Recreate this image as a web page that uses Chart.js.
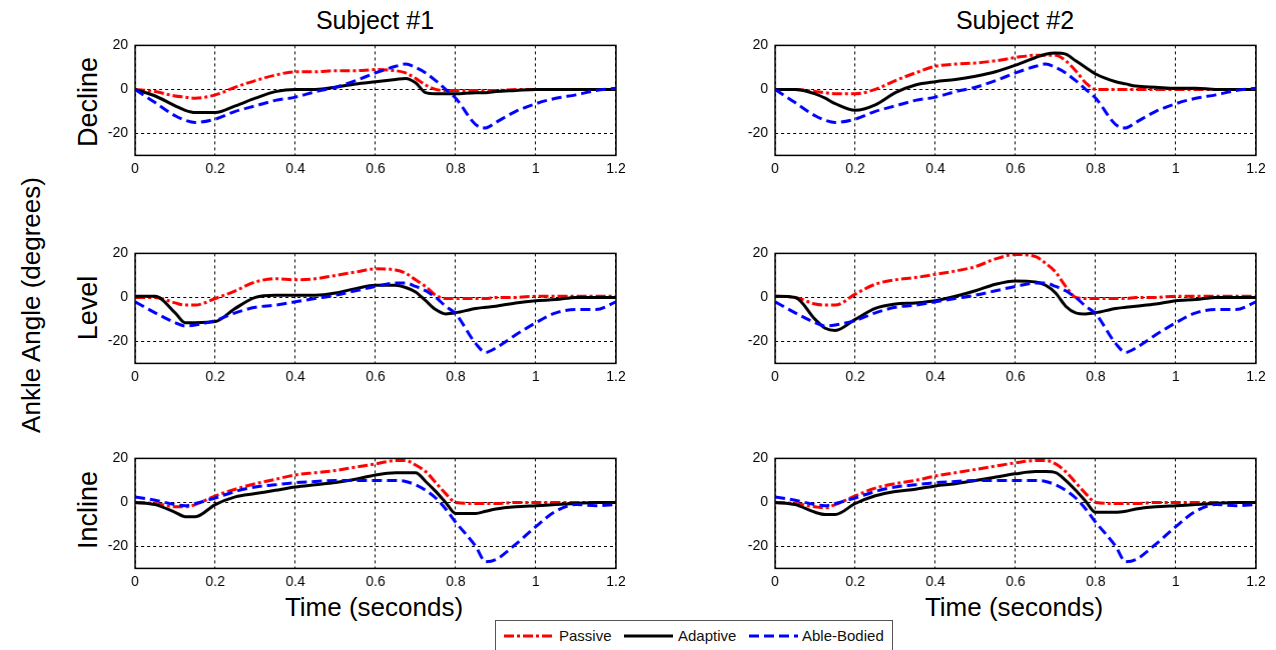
<!DOCTYPE html>
<html>
<head>
<meta charset="utf-8">
<script src="https://cdn.jsdelivr.net/npm/chart.js@4.4.0/dist/chart.umd.min.js"></script>
<style>
  body { margin: 0; background: #fff; width: 1276px; height: 650px; overflow: hidden; position: relative;
         font-family: "Liberation Sans", Arial, sans-serif; }
  canvas { position: absolute; }
  .lbl { position: absolute; color: #000; white-space: nowrap; transform: translate(-50%, -50%); }
  .rot { transform: translate(-50%, -50%) rotate(-90deg); }
  #legend { position: absolute; left: 495px; top: 620px; width: 398px; height: 40px;
            border: 1px solid #555; background: #fff; box-sizing: border-box; }
  #legend span { position: absolute; top: 6px; font-size: 15px; color: #111; }
</style>
</head>
<body>

<div class="lbl" style="left:375px;top:20px;font-size:25px;">Subject #1</div>
<div class="lbl" style="left:1015px;top:20px;font-size:25px;">Subject #2</div>
<div class="lbl rot" style="left:31px;top:305px;font-size:26px;">Ankle Angle (degrees)</div>
<div class="lbl rot" style="left:88px;top:102px;font-size:27px;">Decline</div>
<div class="lbl rot" style="left:88px;top:308px;font-size:27px;">Level</div>
<div class="lbl rot" style="left:88px;top:510px;font-size:27px;">Incline</div>
<div class="lbl" style="left:374px;top:607px;font-size:26px;">Time (seconds)</div>
<div class="lbl" style="left:1014px;top:607px;font-size:26px;">Time (seconds)</div>

<div id="legend">
  <svg width="398" height="40" style="position:absolute;left:0;top:0">
    <line x1="8" y1="15" x2="58" y2="15" stroke="#ff0000" stroke-width="3" stroke-dasharray="10 3 3 3"/>
    <line x1="128" y1="15" x2="177" y2="15" stroke="#000" stroke-width="3"/>
    <line x1="253" y1="15" x2="302" y2="15" stroke="#0000ff" stroke-width="3" stroke-dasharray="10 5"/>
  </svg>
  <span style="left:63px">Passive</span>
  <span style="left:182px">Adaptive</span>
  <span style="left:306px">Able-Bodied</span>
</div>

<script>
// time samples (seconds), shared by every curve
const times = [0, 0.05, 0.1, 0.125, 0.15, 0.2, 0.25, 0.3, 0.35, 0.4, 0.45, 0.5, 0.55, 0.6, 0.65,
               0.675, 0.7, 0.725, 0.75, 0.775, 0.8, 0.85, 0.875, 0.9, 0.95, 1, 1.05, 1.1, 1.15, 1.2];

const xTicks = [0, 0.2, 0.4, 0.6, 0.8, 1, 1.2];
const yTicks = [-20, 0, 20];

const seriesNames = ['Passive', 'Adaptive', 'Able-Bodied'];
const rowNames = ['Decline', 'Level', 'Incline'];

// Decline
const declineS1Passive  = [0, -1, -3, -3.5, -4, -2.5, 1, 4, 6.5, 8, 8, 8.5, 8.5, 9, 8.5, 7.5, 5, 2, 0, -0.5, -0.5, -0.5, -0.5, -0.5, 0, 0, 0, 0, 0, 0];
const declineS1Adaptive = [0, -3, -7.5, -9.5, -10.5, -10.5, -7.5, -4, -1, 0, 0, 1, 2.5, 3.5, 4.5, 5, 3, -1.5, -2, -2, -2, -1.5, -1.5, -1, -0.5, 0, 0, 0, 0, 0];
const declineS2Passive  = [0, 0, -1, -1.5, -2, -2, 0, 4, 7.5, 10.5, 11.5, 12, 13, 14.5, 15.5, 15.5, 15.5, 13, 8.5, 3, 0, 0, 0, 0, 0, 0, 0, 0, 0, 0];
const declineS2Adaptive = [0, 0, -2, -4, -6.5, -9.5, -7, -1.5, 2, 3.5, 4.5, 6, 8, 11, 14.5, 16, 16.5, 16, 13, 10, 7, 3.5, 2.5, 1.5, 1, 0.5, 0.5, 0, 0, 0];
const declineAbleBodied = [0, -6, -12, -14, -15, -13.5, -10, -7.5, -5, -3.5, -1, 1, 4, 7.5, 10.5, 11.5, 10, 7.5, 4, 0, -4, -16, -17.5, -15, -10, -6.5, -4, -2.5, -0.5, 0.5];

// Level
const levelS1Passive  = [0, 0, -2.5, -3.5, -3.5, -0.5, 3, 7, 8.5, 8, 8.5, 10, 11.5, 13, 12.5, 11, 8, 5, 1, -0.5, -0.5, -0.5, -0.5, 0, 0, 0.5, 0.5, 0.5, 0.5, 0.5];
const levelS1Adaptive = [0.5, 0.5, -7, -11.5, -11.5, -11, -5, 0, 1, 1, 1, 2, 4, 5.5, 5.5, 4.5, 2.5, -1.5, -5.5, -7.5, -7, -5, -4.5, -4, -2.5, -1.5, -1, 0, 0, 0];
const levelS2Passive  = [0.5, 0, -3, -3.5, -3.5, 1.5, 6, 8, 9, 10.5, 12, 14, 17.5, 19.5, 18.5, 15.5, 11.5, 5, 0, -0.5, -0.5, -0.5, -0.5, 0, 0, 0.5, 0.5, 0.5, 0.5, 0.5];
const levelS2Adaptive = [0.5, 0, -10, -14, -15, -10, -5, -3, -2.5, -1.5, 0.5, 3, 6, 7.5, 7, 5.5, 2, -4, -7, -7.5, -7, -5, -4.5, -4, -3, -1.5, -1, 0, 0, 0];
const levelAbleBodied = [-2, -7, -11.5, -13, -12.5, -10.5, -7, -4.5, -3.5, -2, -0.5, 1, 3, 5, 6.5, 6.5, 5, 3, 0, -4, -7.5, -21, -25, -23, -17, -11.5, -7, -5.5, -5.5, -2];

// Incline
const inclineS1Passive  = [0, -0.5, -2, -2, -1, 3, 6, 8.5, 10.5, 12.5, 13.5, 14.5, 16, 17.5, 19, 19, 17, 14, 9, 4, 0, -0.5, -0.5, -0.5, 0, 0, 0, 0, 0, 0];
const inclineS1Adaptive = [0, -1, -4.5, -6.5, -6.5, -1, 2.5, 4, 5.5, 7, 8, 9, 10.5, 12.5, 13.5, 13.5, 13.5, 9.5, 5, 0, -5, -5, -4, -3, -2, -1.5, -1, -0.5, 0, 0];
const inclineS2Passive  = [0, -0.5, -2, -2.5, -1, 3, 6.5, 8.5, 10, 12, 13.5, 15, 16.5, 18, 19, 19, 17.5, 14, 9, 4, 0, -0.5, -0.5, -0.5, 0, 0, 0, 0, 0, 0];
const inclineS2Adaptive = [0, -1, -4.5, -5.5, -5.5, -0.5, 3, 5, 6, 7.5, 8.5, 10, 11.5, 13, 14, 14, 13.5, 10, 5.5, 0.5, -4.5, -4.5, -4, -3, -2, -1.5, -1, -0.5, 0, 0];
const inclineAbleBodied = [2.5, 1, -1, -1.5, -0.5, 2, 5, 7, 8, 9, 9.5, 10, 10, 10, 10, 9.5, 8, 5.5, 2, -3, -9, -20, -27, -26, -19, -11, -4, -1, -1.5, -1];

const panels = [
  [declineS1Passive, declineS1Adaptive, declineAbleBodied],
  [declineS2Passive, declineS2Adaptive, declineAbleBodied],
  [levelS1Passive, levelS1Adaptive, levelAbleBodied],
  [levelS2Passive, levelS2Adaptive, levelAbleBodied],
  [inclineS1Passive, inclineS1Adaptive, inclineAbleBodied],
  [inclineS2Passive, inclineS2Adaptive, inclineAbleBodied]
];

const colLeft = [135, 775];
const rowTop = [45, 253, 458];
const plotW = 480, plotH = 110;
const yAxisW = 60, xAxisH = 25, padTop = 10, padRight = 14;

const styles = [
  { color: '#ff0000', dash: [10, 3, 3, 3], order: 2 },
  { color: '#000000', dash: [], order: 1 },
  { color: '#0000ff', dash: [10, 5], order: 0 }
];

Chart.defaults.font.family = '"Liberation Sans", Arial, sans-serif';

// full black frame round each plot area
const boxPlugin = {
  id: 'box',
  afterDraw(chart) {
    const a = chart.chartArea, c = chart.ctx;
    c.save();
    c.strokeStyle = '#000';
    c.lineWidth = 1.5;
    c.setLineDash([]);
    c.strokeRect(a.left, a.top, a.right - a.left, a.bottom - a.top);
    c.restore();
  }
};

panels.forEach((series, p) => {
  const row = Math.floor(p / 2), col = p % 2;
  const cv = document.createElement('canvas');
  cv.width = yAxisW + plotW + padRight;
  cv.height = padTop + plotH + xAxisH;
  document.body.appendChild(cv);

  const chart = new Chart(cv, {
    type: 'line',
    data: {
      datasets: series.map((vals, i) => ({
        label: seriesNames[i],
        data: times.map((t, k) => ({ x: t, y: vals[k] })),
        borderColor: styles[i].color,
        borderDash: styles[i].dash,
        borderWidth: 3,
        pointRadius: 0,
        cubicInterpolationMode: 'monotone',
        fill: false,
        order: styles[i].order
      }))
    },
    options: {
      responsive: false,
      maintainAspectRatio: false,
      animation: false,
      layout: { padding: { left: 0, top: padTop, right: padRight, bottom: 0 } },
      plugins: { legend: { display: false }, tooltip: { enabled: false } },
      scales: {
        x: {
          type: 'linear', min: 0, max: 1.2,
          afterBuildTicks: (axis) => { axis.ticks = xTicks.map(v => ({ value: v })); },
          afterFit: (axis) => { axis.height = xAxisH; },
          ticks: { color: '#000', font: { size: 14 }, padding: 5, autoSkip: false, maxRotation: 0,
                   callback: (v) => String(Math.round(v * 10) / 10) },
          grid: { color: '#000', lineWidth: 1, drawTicks: false },
          border: { display: false, dash: [3, 3] }
        },
        y: {
          min: -30, max: 20,
          afterBuildTicks: (axis) => { axis.ticks = yTicks.map(v => ({ value: v })); },
          afterFit: (axis) => { axis.width = yAxisW; },
          ticks: { color: '#000', font: { size: 14 }, padding: 7 },
          grid: { color: '#000', lineWidth: 1, drawTicks: false },
          border: { display: false, dash: [3, 3] }
        }
      }
    },
    plugins: [boxPlugin]
  });

  // make the plot area exactly plotW x plotH, then place it
  let a = chart.chartArea;
  const dw = plotW - (a.right - a.left), dh = plotH - (a.bottom - a.top);
  if (dw || dh) chart.resize(chart.width + dw, chart.height + dh);
  a = chart.chartArea;
  cv.style.left = (colLeft[col] - a.left) + 'px';
  cv.style.top = (rowTop[row] - a.top) + 'px';
});
</script>
</body>
</html>
